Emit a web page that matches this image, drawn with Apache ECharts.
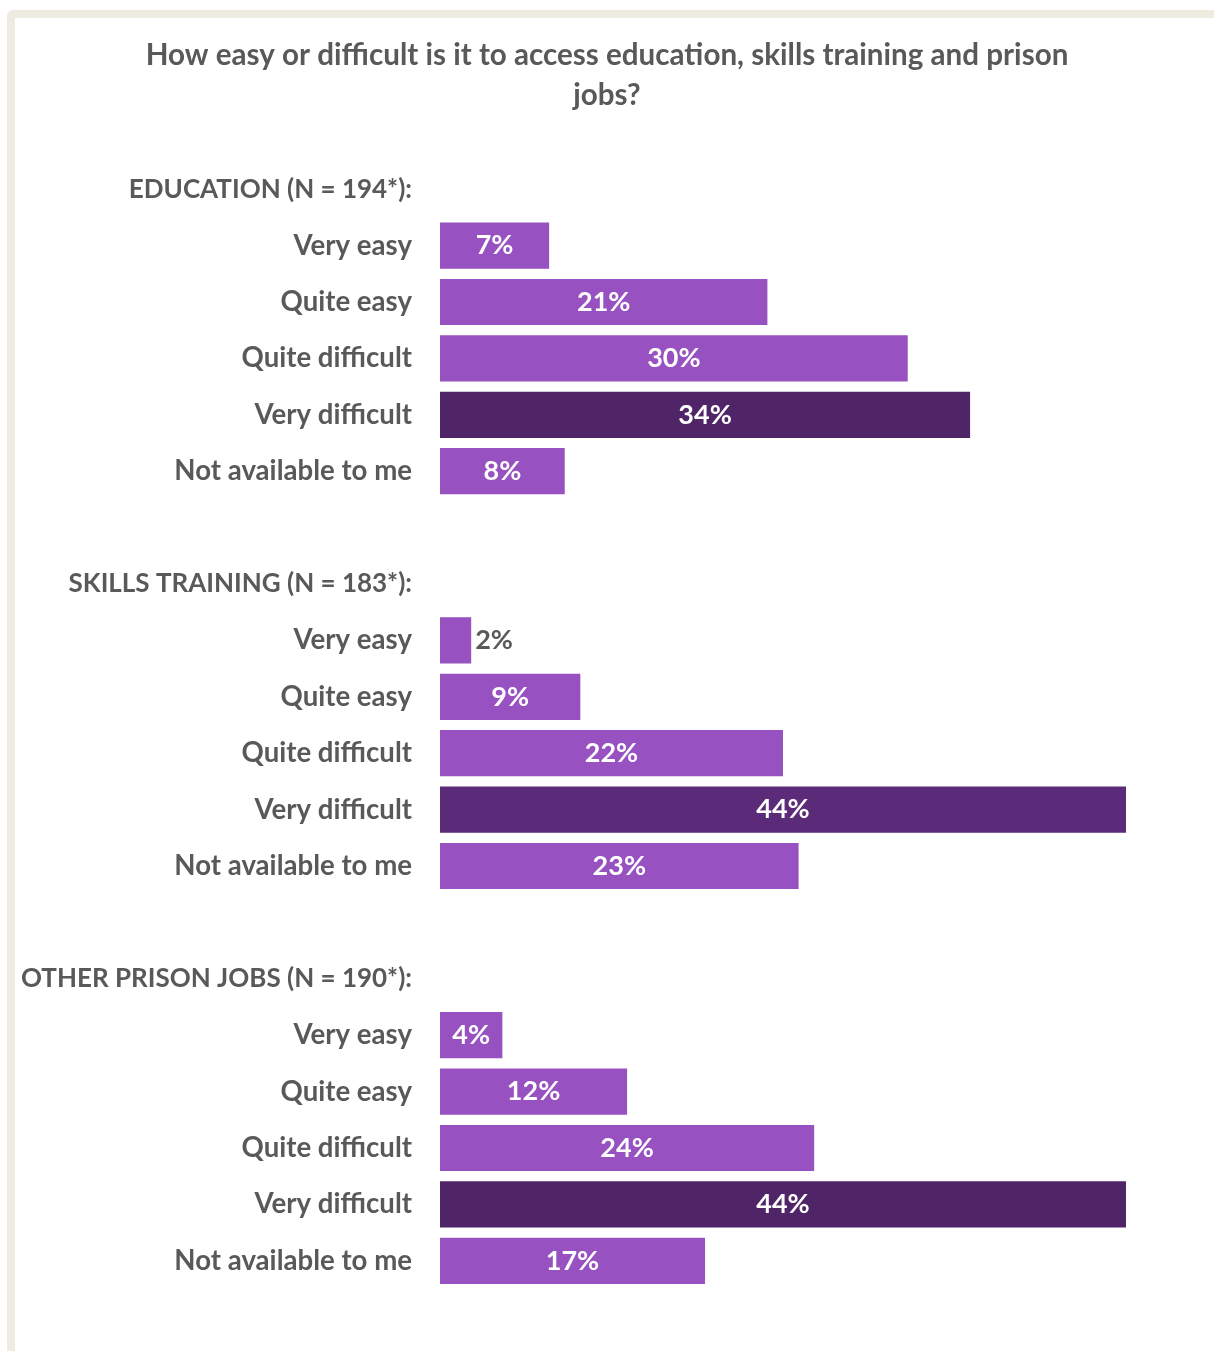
<!DOCTYPE html>
<html>
<head>
<meta charset="utf-8">
<script src="https://cdn.jsdelivr.net/npm/echarts@6/dist/echarts.min.js"></script>
<style>
  html, body { margin: 0; padding: 0; width: 1214px; height: 1351px; overflow: hidden; background: #ffffff; }
  #frame { position: absolute; left: 7px; top: 10px; width: 1200px; height: 1360px;
           border: 8px solid #eeebe0; border-radius: 6px; }
  #chart { position: absolute; left: 0; top: 0; width: 1214px; height: 1351px; }
</style>
</head>
<body>
<div id="frame"></div>
<div id="chart"></div>
<script>
// Survey groups and their answer shares (%)
const groups = ['EDUCATION (N = 194*):', 'SKILLS TRAINING (N = 183*):', 'OTHER PRISON JOBS (N = 190*):'];
const answers = ['Very easy', 'Quite easy', 'Quite difficult', 'Very difficult', 'Not available to me'];
const education = [7, 21, 30, 34, 8];
const skillsTraining = [2, 9, 22, 44, 23];
const otherPrisonJobs = [4, 12, 24, 44, 17];
const groupValues = [education, skillsTraining, otherPrisonJobs];

const lightPurple = '#9751c0';
const darkPurples = ['#4f2568', '#5b2b79', '#4f2568'];
const labelGrey = '#595959';

// Build one row per header / answer / spacer, top to bottom
const rowKeys = [];
const rowText = {};
const barData = [];
groups.forEach((g, gi) => {
  if (gi > 0) {
    const k = 'gap' + gi;
    rowKeys.push(k); rowText[k] = '';
    barData.push(null);
  }
  const hk = 'head' + gi;
  rowKeys.push(hk); rowText[hk] = '{head|' + g + '}';
  barData.push(null);
  answers.forEach((a, ai) => {
    const k = 'g' + gi + 'a' + ai;
    rowKeys.push(k); rowText[k] = a;
    const v = groupValues[gi][ai];
    const item = {
      value: v,
      itemStyle: { color: a === 'Very difficult' ? darkPurples[gi] : lightPurple }
    };
    if (v < 3) {
      item.label = { position: 'right', distance: 4, color: labelGrey };
    }
    barData.push(item);
  });
});

const chart = echarts.init(document.getElementById('chart'), null, { renderer: 'canvas' });
chart.setOption({
  backgroundColor: 'transparent',
  animation: false,
  title: {
    text: 'How easy or difficult is it to access education, skills training and prison\njobs?',
    left: 'center',
    top: 30,
    textStyle: {
      fontFamily: 'Lato', fontWeight: 'bold', fontSize: 29.6,
      color: labelGrey, lineHeight: 40, align: 'center'
    }
  },
  grid: { left: 440, right: 88, top: 161, bottom: 62, containLabel: false },
  xAxis: {
    type: 'value', min: 0, max: 44, show: false
  },
  yAxis: {
    type: 'category',
    inverse: true,
    data: rowKeys,
    axisLine: { show: false },
    axisTick: { show: false },
    splitLine: { show: false },
    axisLabel: {
      margin: 28,
      interval: 0,
      color: labelGrey,
      fontFamily: 'Lato',
      fontWeight: 'bold',
      fontSize: 27.6,
      formatter: k => rowText[k],
      rich: {
        head: {
          color: labelGrey, fontFamily: 'Lato', fontWeight: 'bold', fontSize: 26
        }
      }
    }
  },
  series: [{
    type: 'bar',
    data: barData,
    barCategoryGap: '18%',
    label: {
      show: true,
      position: 'inside',
      color: '#ffffff',
      fontFamily: 'Lato',
      fontWeight: 'bold',
      fontSize: 27,
      formatter: p => p.value + '%'
    }
  }]
});
</script>
</body>
</html>
